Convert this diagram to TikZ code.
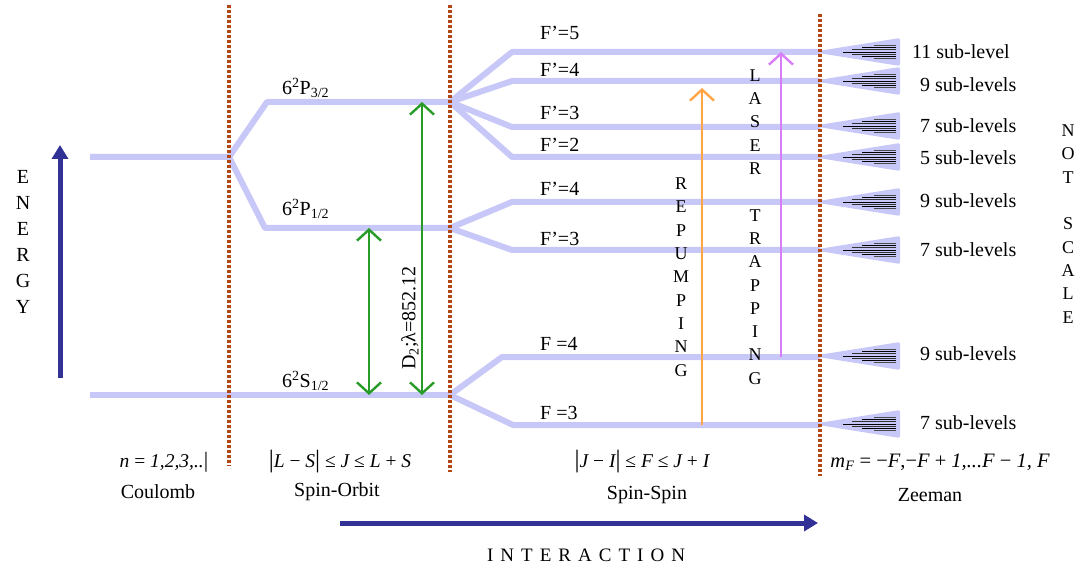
\documentclass[tikz,border=0pt]{standalone}
\usepackage{fontspec}
\setmainfont{Liberation Serif}
\usetikzlibrary{arrows.meta}
\definecolor{lav}{RGB}{200,200,248}
\definecolor{rust}{RGB}{180,70,20}
\definecolor{navy}{RGB}{50,50,150}
\definecolor{grn}{RGB}{40,155,40}
\definecolor{orng}{RGB}{255,165,70}
\definecolor{purp}{RGB}{215,125,250}
\newcommand\zfan[1]{%
  \fill[lav,rounded corners=2pt] (812,#1) -- (900,#1-14) -- (900,#1+14) -- cycle;
  \foreach \o/\s/\c in {0/843/black,2.2/852/black!80,-2.2/852/black!80,4.4/862/black,-4.4/862/black,6.6/874/black!70,-6.6/874/black!70}
    \draw[\c,line width=0.9pt] (\s,#1+\o) -- (896,#1+\o);
}
\begin{document}
\begin{tikzpicture}[x=1pt,y=-1pt,
  level/.style={lav,line width=6pt,line join=round},
  sepline/.style={rust,line width=3.5pt,dash pattern=on 3pt off 2pt},
  lbl/.style={font=\fontsize{20}{22}\selectfont,inner sep=0pt},
  frm/.style={font=\fontsize{19.5}{20}\selectfont\itshape,inner sep=0pt},
  stack/.style={font=\fontsize{18}{23.3}\selectfont,align=center,inner sep=0pt},
  bigarrow/.style={navy,line width=5pt,-{Triangle[length=14pt,width=16pt]}},
  barb/.tip={Straight Barb[length=11pt,width=24pt,line width=2.4pt]},
  spec/.style={line width=2.4pt,-barb},
  specboth/.style={line width=2.4pt,barb-barb}]
\useasboundingbox (0,0) rectangle (1081,569);
% coordinates
\coordinate (C0) at (90,157); \coordinate (CB) at (229,157);
\coordinate (P3a) at (267,102); \coordinate (P3b) at (450,102);
\coordinate (P1a) at (265,228); \coordinate (P1b) at (450,228);
\coordinate (S0) at (90,395); \coordinate (Sb) at (450,395);
\foreach \n/\y/\x in {F5p/52/512,F4p/81/512,F3p/127/512,F2p/157/512,F4q/202/512,F3q/250/512,F4/357/502,F3/425/513}{
  \coordinate (\n s) at (\x,\y); \coordinate (\n e) at (820,\y);}
% levels
\draw[level] (C0) -- (CB) -- (P3a) -- (P3b);
\draw[level] (CB) -- (P1a) -- (P1b);
\draw[level] (S0) -- (Sb);
\foreach \n in {F5p,F4p,F3p,F2p}{\draw[level] (P3b) -- (\n s) -- (\n e);}
\foreach \n in {F4q,F3q}{\draw[level] (P1b) -- (\n s) -- (\n e);}
\foreach \n in {F4,F3}{\draw[level] (Sb) -- (\n s) -- (\n e);}
% Zeeman fans
\foreach \y in {52,81,126,157,202,250,356,424}{\zfan{\y}}
% separators
\draw[sepline] (229,5) -- (229,466);
\draw[sepline] (450,5) -- (450,472);
\draw[sepline] (820,14) -- (820,476);
% transitions
\coordinate (gA0) at (369,395); \coordinate (gA1) at (369,228);
\coordinate (gB0) at (422,395); \coordinate (gB1) at (422,102);
\draw[specboth,grn] (gA0) -- (gA1);
\draw[specboth,grn] (gB0) -- (gB1);
\node[lbl,rotate=90] (d2) at (410,318) {D\textsubscript{2};λ=852.12};
\coordinate (oA0) at (702,425); \coordinate (oA1) at (702,88);
\draw[spec,orng] (oA0) -- (oA1);
\coordinate (pA0) at (781,357); \coordinate (pA1) at (781,52);
\draw[spec,purp] (pA0) -- (pA1);
\node[stack] (rep) at (681,277) {R\\E\\P\\U\\M\\P\\I\\N\\G};
\node[stack] (las) at (755,227) {L\\A\\S\\E\\R\\~\\T\\R\\A\\P\\P\\I\\N\\G};
\node[stack] (nots) at (1068,224) {N\\O\\T\\~\\S\\C\\A\\L\\E};
\node[font=\fontsize{20}{26}\selectfont,align=center,inner sep=0pt] (en) at (23,242) {E\\N\\E\\R\\G\\Y};
% energy / interaction arrows
\coordinate (e0) at (60,378); \coordinate (e1) at (60,145);
\draw[bigarrow] (e0) -- (e1);
\coordinate (i0) at (340,523); \coordinate (i1) at (818,523);
\draw[bigarrow] (i0) -- (i1);
\node[font=\fontsize{19}{20}\selectfont\addfontfeature{LetterSpace=37},inner sep=0pt] (inter) at (586,555) {INTERACTION};
% level labels
\node[lbl,anchor=west] (lP3) at (282,88) {6\textsuperscript{2}P\textsubscript{3/2}};
\node[lbl,anchor=west] (lP1) at (282,209) {6\textsuperscript{2}P\textsubscript{1/2}};
\node[lbl,anchor=west] (lS1) at (282,381) {6\textsuperscript{2}S\textsubscript{1/2}};
\foreach \t/\y [count=\i] in {F’=5/33,F’=4/70,F’=3/113,F’=2/145,F’=4/189,F’=3/239,F =4/344,F =3/413}{
  \node[lbl,anchor=west] (hf\i) at (540,\y) {\t};}
\foreach \t/\y [count=\i] in {11 sub-level/52,9 sub-levels/85,7 sub-levels/126,5 sub-levels/158,9 sub-levels/201,7 sub-levels/250,9 sub-levels/354,7 sub-levels/423}{
  \node[lbl,anchor=west] (zs\i) at (\ifnum\i=1 912\else 920\fi,\y) {\t};}
% bottom labels
\node[frm] (f1) at (164,462) {n\upshape\ =\ \itshape 1,2,3,..{\upshape\fontsize{22}{22}\selectfont|}};
\node[frm] (f2) at (340,462) {{\upshape\fontsize{25}{25}\selectfont|}L\upshape\ −\ \itshape S{\upshape\fontsize{25}{25}\selectfont|}\upshape\ ≤\ \itshape J\upshape\ ≤\ \itshape L\upshape\ +\ \itshape S};
\node[frm] (f3) at (642,462) {{\upshape\fontsize{25}{25}\selectfont|}J\upshape\ −\ \itshape I{\upshape\fontsize{25}{25}\selectfont|}\upshape\ ≤\ \itshape F\upshape\ ≤\ \itshape J\upshape\ +\ \itshape I};
\node[frm,font=\fontsize{20.5}{21}\selectfont\itshape] (f4) at (940,462) {m\textsubscript{F}\upshape\ =\ −\itshape F\upshape,−\itshape F\upshape\ +\ \itshape 1,...F\upshape\ −\ \itshape 1, F};
\node[lbl] (t1) at (158,492) {Coulomb};
\node[lbl] (t2) at (337,492) {Spin-Orbit};
\node[lbl] (t3) at (647,495) {Spin-Spin};
\node[lbl] (t4) at (930,495) {Zeeman};
\end{tikzpicture}
\end{document}
